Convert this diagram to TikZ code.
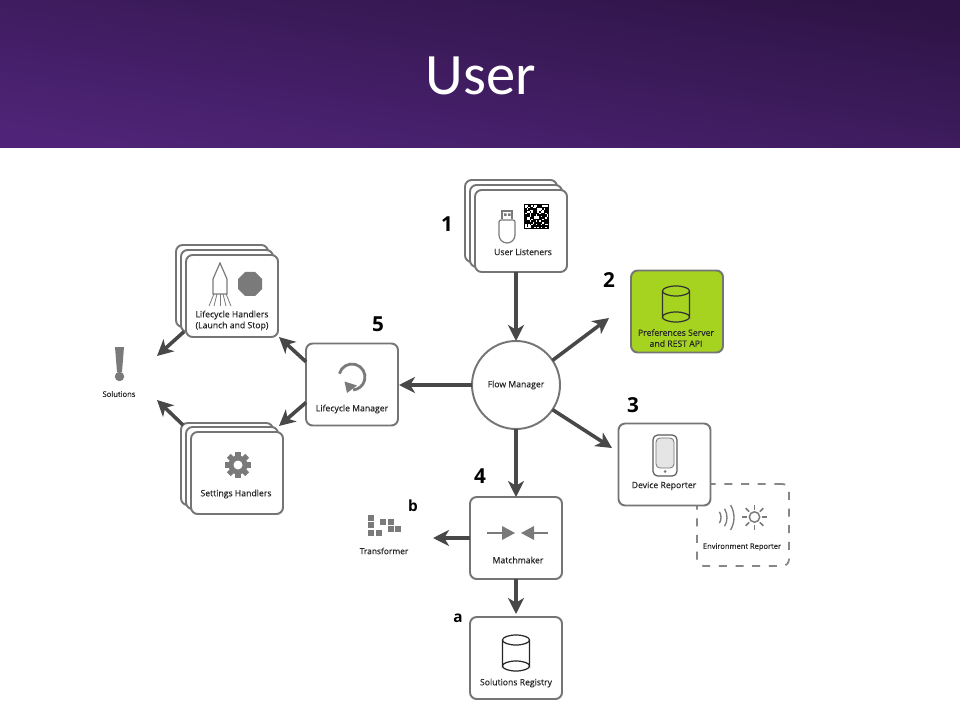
\documentclass[tikz,border=0pt]{standalone}
\usepackage{fontspec}
\setmainfont{Open Sans}
\newfontfamily\titlefont{Carlito}
\newfontfamily\lblfont[BoldFont={Open Sans},BoldFeatures={FakeBold=0.35}]{Open Sans}
\usetikzlibrary{arrows.meta,calc}
\definecolor{bord}{HTML}{757575}
\definecolor{arrowc}{HTML}{484848}
\definecolor{icon}{HTML}{7A7A7A}
\definecolor{txt}{HTML}{262626}
\definecolor{lime}{HTML}{A5D320}
\definecolor{headlight}{HTML}{4F2478}
\definecolor{headdark}{HTML}{2E1446}
\tikzset{
  card/.style={draw=bord,line width=1.45pt,fill=white,rounded corners=5pt,minimum width=69pt,minimum height=61.5pt,inner sep=0pt,outer sep=0pt},
  flow/.style={draw=arrowc,line width=2.7pt,-{Stealth[length=12pt,width=12pt,inset=3.5pt]}},
  lbl/.style={font=\lblfont\bfseries\fontsize{6.5}{8.2}\selectfont,text=txt,align=center,inner sep=0pt},
  num/.style={font=\fontsize{15.5}{16}\selectfont\bfseries,text=black,inner sep=0pt},
  sub/.style={font=\fontsize{11.5}{12}\selectfont\bfseries,text=black,inner sep=0pt},
  iconline/.style={draw=icon,line width=0.9pt},
}
\newcommand{\cylinder}[4]{% x center, top y, half width, style
  \draw[#4] (#1-#3,#2) -- (#1-#3,#2+26) arc[x radius=#3,y radius=5,start angle=180,end angle=360] -- (#1+#3,#2) ;
  \draw[#4] (#1,#2) ellipse[x radius=#3,y radius=5];
  \draw[#4,fill=none] (#1-#3,#2+26) arc[x radius=#3,y radius=5,start angle=180,end angle=0];
}
\begin{document}
\begin{tikzpicture}[x=0.75pt,y=-0.75pt]
\useasboundingbox (0,0) rectangle (960,720);
\fill[white] (0,0) rectangle (960,720);
\shade[left color=headlight,right color=headdark,shading angle=171] (0,0) rectangle (960,148);
\node[font=\titlefont\fontsize{44}{48}\selectfont,text=white,inner sep=0pt] (title) at (481,75.5) {User};

% user listeners
\node[card] (ul3) at (511,221) {};
\node[card] (ul2) at (516,226) {};
\node[card] (ul) at (521,231) {};
\draw[iconline,fill=white] (502,219) -- (502,211) -- (512,211) -- (512,219);
\fill[icon] (504,213.5) rectangle (506.5,216) (508,213.5) rectangle (510.5,216);
\draw[iconline,fill=white] (499,222) arc[start angle=180,end angle=270,radius=2] -- (513,220) arc[start angle=270,end angle=360,radius=2] -- (515,235) arc[x radius=8,y radius=8,start angle=0,end angle=180] -- cycle;
\fill[black] (524,204) rectangle (549,229);
\pgfmathsetseed{11}
\foreach \i in {0,...,14}{\foreach \j in {0,...,14}{
  \pgfmathrandominteger{\r}{0}{2}
  \ifnum\r=0 \fill[white] (525+1.55*\i,205+1.55*\j) rectangle ++(1.55,1.55);\fi
}}
\node[lbl] (ultext) at (523,252) {User Listeners};

% preferences
\node[card,fill=lime] (pref) at (677,311.5) {};
\cylinder{676}{291}{13.5}{draw=black!80,line width=0.9pt,fill=lime}
\node[lbl,text=black!85] (preftext) at (676,338) {Preferences Server\\and REST API};

% flow manager
\node[circle,draw=bord,line width=1.45pt,fill=white,minimum size=66pt,inner sep=0pt,outer sep=0pt] (fm) at (516,385) {};
\node[lbl] (fmtext) at (516,385) {Flow Manager};

% lifecycle handlers
\node[card] (lh3) at (222,286) {};
\node[card] (lh2) at (227,291) {};
\node[card] (lh) at (232,296) {};
\draw[iconline,fill=white] (220,263) -- (227,279) -- (227,294) -- (213,294) -- (213,279) -- cycle;
\foreach \a/\b in {214/209,217/214,220/220,223/226,226/231}{\draw[iconline,line width=0.6pt] (\a,294) -- (\b,306);}
\fill[icon] (245,272) -- (255,272) -- (262,279) -- (262,289) -- (255,296) -- (245,296) -- (238,289) -- (238,279) -- cycle;
\node[lbl] (lhtext) at (232,320.5) {Lifecycle Handlers\\(Launch and Stop)};

% settings handlers
\node[card] (sh3) at (227,464) {};
\node[card] (sh2) at (232,468) {};
\node[card] (sh) at (237,473) {};
\fill[icon] (238,465) circle[radius=9.5];
\foreach \a in {0,45,...,315}{\fill[icon,rotate around={\a:(238,465)}] (235.2,452) rectangle (240.8,458);}
\fill[white] (238,465) circle[radius=4.5];
\node[lbl] (shtext) at (236,494) {Settings Handlers};

% lifecycle manager
\node[card] (lm) at (352,384.5) {};
\draw[icon,line width=2.1pt] (352,377) ++(-165:13) arc[start angle=-165,end angle=85,radius=13];
\fill[icon] (344.5,381.5) -- (357,385.5) -- (347,393) -- cycle;
\node[lbl] (lmtext) at (352,409) {Lifecycle Manager};

% solutions
\fill[icon] (115,347) -- (124,347) -- (122,372) -- (117,372) -- cycle;
\fill[icon] (119.5,376.5) circle[radius=4.7];
\node[lbl,font=\lblfont\bfseries\fontsize{5.7}{6.5}\selectfont] (soltext) at (119,394) {Solutions};

% environment reporter
\node[draw=icon!90!white,line width=1.35pt,dash pattern=on 6pt off 6.5pt,rounded corners=5pt,minimum width=69pt,minimum height=61.5pt,inner sep=0pt,outer sep=0pt] (env) at (743,525) {};
\foreach \r in {11,17,24}{\draw[iconline,line width=1pt] (710,517.5) ++(-31:\r) arc[start angle=-31,end angle=31,radius=\r];}
\draw[iconline,line width=1.1pt] (754.5,517) circle[radius=5.2];
\foreach \a in {0,45,...,315}{\draw[iconline,line width=1.1pt] ($(754.5,517)+(\a:7.5)$) -- ($(754.5,517)+(\a:12.5)$);}
\node[lbl,font=\lblfont\bfseries\fontsize{5.65}{6.5}\selectfont] (envtext) at (742,547) {Environment Reporter};

% device reporter
\node[card] (dev) at (664.5,464.5) {};
\draw[draw=black!65,line width=0.9pt,fill=white,rounded corners=3.5pt] (653,435) rectangle (677,476);
\draw[draw=bord,line width=0.6pt,fill=black!10,rounded corners=3pt] (656,438) rectangle (674,468);
\fill[icon] (665,471.5) circle[radius=1.5];
\node[lbl] (devtext) at (664,486) {Device Reporter};

% matchmaker
\node[card] (mm) at (516,538) {};
\draw[icon,line width=1.3pt] (487,533) -- (503,533);
\fill[icon] (502,526) -- (515,533) -- (502,540) -- cycle;
\draw[icon,line width=1.3pt] (533,533) -- (548,533);
\fill[icon] (534,526) -- (521,533) -- (534,540) -- cycle;
\node[lbl] (mmtext) at (518,560) {Matchmaker};

% solutions registry
\node[card] (sr) at (516,658) {};
\cylinder{516}{640}{13.5}{draw=black!85,line width=0.9pt,fill=white}
\node[lbl] (srtext) at (516,683) {Solutions Registry};

% transformer
\foreach \x/\y in {371/518,371/525,371/533,379/533,383/522,391/522,391/529,398/529}{\fill[icon] (\x-3.2,\y-3.2) rectangle (\x+3.2,\y+3.2);}
\node[lbl,font=\lblfont\bfseries\fontsize{6.3}{7}\selectfont] (trtext) at (384,551) {Transformer};

% numbers
\node[num] (n1) at (447,224) {1};
\node[num] (n2) at (609,280) {2};
\node[num] (n3) at (633,405) {3};
\node[num] (n4) at (480,476) {4};
\node[num] (n5) at (378,324) {5};
\node[sub] (na) at (458,618) {a};
\node[sub] (nb) at (413,506) {b};

% free ends
\coordinate (prefend) at (609,318);
\coordinate (devend) at (612,448);
\coordinate (lhend) at (279,337);
\coordinate (shend) at (279,426);
\coordinate (solA) at (157,356);
\coordinate (solB) at (157,400);
\coordinate (trend) at (433,538);
\coordinate (srend) at (516,614);
\coordinate (lmend) at (399,385);

% connectors
\draw[flow] ([xshift=-3.75pt]ul.south) -- (fm.north);
\draw[flow] (fm.34) -- (prefend);
\draw[flow] (fm.-34) -- (devend);
\draw[flow] (fm.south) -- (mm.north);
\draw[flow] (fm.west) -- (lmend);
\draw[flow] ([yshift=17pt]lm.west) -- (lhend);
\draw[flow] ([yshift=-13.5pt]lm.west) -- (shend);
\draw[flow] ([xshift=-36pt,yshift=4pt]lh.south) -- (solA);
\draw[flow] ([xshift=-33pt,yshift=-1.5pt]sh3.north) -- (solB);
\draw[flow] (mm.west) -- (trend);
\draw[flow] (mm.south) -- (srend);
\end{tikzpicture}
\end{document}
